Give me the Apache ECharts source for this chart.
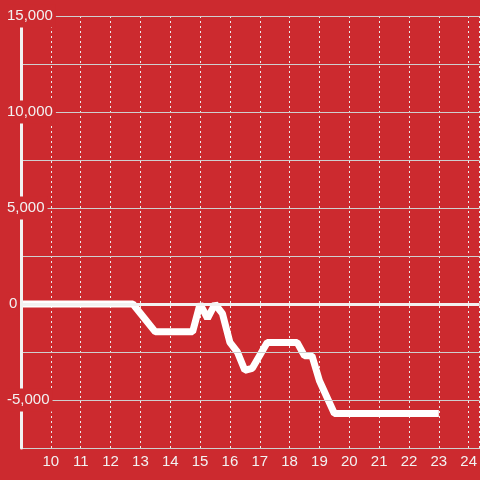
<!DOCTYPE html>
<html>
<head>
<meta charset="utf-8">
<script src="https://cdn.jsdelivr.net/npm/echarts@6/dist/echarts.min.js"></script>
<style>
html,body{margin:0;padding:0;background:#cc2a2f;}
#chart{width:480px;height:480px;}
</style>
</head>
<body>
<div id="chart"></div>
<script>
// Data
const hours = [9, 12.75, 13.5, 14.75, 15, 15.25, 15.5, 15.75, 16, 16.25, 16.5, 16.75, 17.25, 18.25, 18.5, 18.75, 19, 19.5, 23];
const values = [0, 0, -1450, -1450, 0, -750, 0, -500, -2000, -2500, -3450, -3350, -2000, -2000, -2700, -2700, -4000, -5700, -5700];
const xTickLabels = [10, 11, 12, 13, 14, 15, 16, 17, 18, 19, 20, 21, 22, 23, 24];
const yLabelValues = [-5000, 0, 5000, 10000, 15000];

const BG = '#cc2a2f';
const FONT = '"Liberation Sans", Arial, sans-serif';
const labelStyle = {color: '#f2f2f2', fontFamily: FONT, fontSize: 15, backgroundColor: BG};
const chart = echarts.init(document.getElementById('chart'));
chart.setOption({
  backgroundColor: BG,
  animation: false,
  grid: {left: 21, right: -2, top: 16, bottom: 32},
  xAxis: {
    type: 'value', min: 9, max: 24.367, interval: 1,
    axisLine: {show: true, onZero: false, lineStyle: {color: '#cfcfcf', width: 1}},
    axisTick: {show: false},
    splitLine: {show: true, lineStyle: {color: '#ececec', width: 1, type: [2, 3]}},
    axisLabel: {
      color: '#f2f2f2', fontFamily: FONT, fontSize: 15, margin: 6,
      showMaxLabel: false, showMinLabel: false,
      formatter: v => xTickLabels.indexOf(v) >= 0 ? String(v) : ''
    }
  },
  yAxis: {
    type: 'value', min: -7500, max: 15000, interval: 2500,
    axisLine: {show: true, lineStyle: {color: '#f2f2f2', width: 3}},
    axisTick: {show: false},
    splitLine: {show: true, lineStyle: {color: '#cfcfcf', width: 1}},
    axisLabel: {
      align: 'left', margin: 15, verticalAlign: 'middle',
      formatter: v => yLabelValues.indexOf(v) < 0 ? '' :
        (v === 0 ? '{b|0}' : '{a|' + v.toLocaleString('en-US') + '}'),
      rich: {
        a: Object.assign({padding: [4, 3, 4, 1]}, labelStyle),
        b: Object.assign({padding: [4, 1, 4, 3]}, labelStyle)
      }
    },
    z: 5
  },
  series: [{
    type: 'line',
    data: hours.map((h, i) => [h, values[i]]),
    showSymbol: false,
    lineStyle: {color: '#ffffff', width: 7},
    markLine: {
      silent: true, symbol: 'none', label: {show: false},
      lineStyle: {color: '#f2f2f2', width: 3, type: 'solid'},
      data: [{yAxis: 0}]
    }
  }]
});
</script>
</body>
</html>
